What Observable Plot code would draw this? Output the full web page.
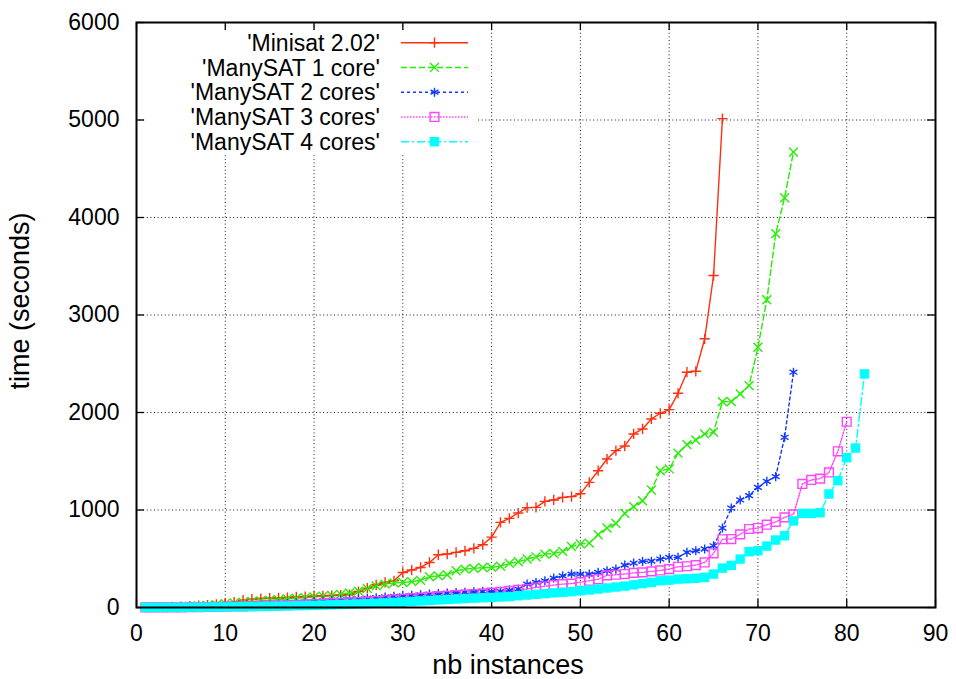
<!DOCTYPE html>
<html>
<head>
<meta charset="utf-8">
<script src="https://cdn.jsdelivr.net/npm/d3@7"></script>
<script src="https://cdn.jsdelivr.net/npm/@observablehq/plot@0.6"></script>
<style>
  html, body { margin: 0; padding: 0; background: #fff; }
  #chart { width: 956px; height: 679px; }
</style>
</head>
<body>
<div id="chart"></div>
<script>
// ---- data (times in seconds, sorted; x = number of instances solved) ----
const seriesNames = ["'Minisat 2.02'", "'ManySAT 1 core'", "'ManySAT 2 cores'", "'ManySAT 3 cores'", "'ManySAT 4 cores'"];

const minisat = [
  2, 3, 5, 7, 10, 14, 18, 24, 32, 42,
  55, 75, 85, 92, 95, 98, 102, 108, 112, 118,
  120, 123, 126, 132, 164, 199, 233, 257, 274, 359,
  384, 411, 462, 541, 548, 565, 582, 606, 644, 722,
  873, 914, 969, 1024, 1027, 1088, 1103, 1130, 1137, 1166,
  1283, 1403, 1523, 1609, 1657, 1780, 1831, 1934, 1992, 2030,
  2197, 2413, 2423, 2756, 3405, 5014
];
const manysat1 = [
  1, 2, 3, 5, 7, 10, 15, 22, 30, 40,
  48, 55, 62, 68, 74, 80, 88, 95, 100, 108,
  115, 125, 135, 150, 168, 195, 222, 240, 252, 256,
  266, 278, 315, 325, 336, 377, 394, 401, 410, 411,
  425, 452, 469, 497, 520, 548, 554, 575, 626, 651,
  661, 746, 815, 862, 965, 1034, 1095, 1205, 1403, 1421,
  1583, 1670, 1718, 1780, 1797, 2112, 2112, 2191, 2276, 2669,
  3156, 3834, 4203, 4671
];
const manysat2 = [
  1, 1, 2, 3, 4, 5, 6, 8, 10, 12,
  15, 18, 22, 26, 30, 35, 40, 46, 53, 60,
  65, 70, 76, 82, 88, 95, 100, 108, 115, 120,
  125, 130, 137, 142, 148, 152, 157, 160, 163, 164,
  166, 178, 189, 240, 257, 274, 302, 325, 343, 343,
  343, 360, 377, 394, 435, 456, 472, 475, 497, 513,
  515, 565, 582, 600, 633, 815, 1020, 1103, 1147, 1232,
  1294, 1342, 1746, 2413
];
const manysat3 = [
  1, 1, 1, 2, 2, 3, 4, 5, 6, 8,
  10, 12, 14, 16, 19, 22, 25, 28, 32, 36,
  40, 44, 48, 52, 56, 60, 66, 74, 82, 90,
  96, 102, 108, 114, 120, 126, 132, 138, 145, 152,
  160, 171, 180, 189, 205, 218, 230, 240, 245, 260,
  275, 290, 330, 336, 343, 355, 360, 370, 380, 394,
  418, 423, 435, 462, 556, 700, 702, 750, 805, 815,
  849, 878, 924, 955, 1267, 1308, 1322, 1385, 1602, 1905
];
const manysat4 = [
  1, 1, 1, 2, 2, 3, 3, 4, 5, 6,
  7, 8, 9, 10, 12, 14, 16, 18, 20, 22,
  25, 28, 31, 34, 37, 40, 43, 47, 52, 57,
  62, 67, 72, 77, 82, 87, 91, 96, 100, 103,
  108, 112, 120, 128, 135, 142, 150, 156, 163, 171,
  180, 190, 200, 210, 220, 232, 245, 258, 274, 281,
  291, 295, 300, 308, 343, 404, 432, 497, 572, 582,
  630, 692, 736, 888, 965, 965, 972, 1164, 1301, 1537,
  1636, 2396
];

const xTicks = [0, 10, 20, 30, 40, 50, 60, 70, 80, 90];
const yTicks = [0, 1000, 2000, 3000, 4000, 5000, 6000];
const xLabel = "nb instances";
const yLabel = "time (seconds)";

// ---- styling ----
const W = 956, H = 679;
const mL = 136, mR = 21, mT = 22, mB = 72;
const pw = W - mL - mR, ph = H - mT - mB;
const FONT = "'Liberation Sans', Arial, Helvetica, sans-serif";
const FS = 23;
const LFS = 27;

const styles = [
  {color: "#ff3010", dash: null,        symbol: "plus",     r: 3.4,  filled: false},
  {color: "#22ee00", dash: "6,3",       symbol: "times",    r: 4.1,  filled: false},
  {color: "#1238ff", dash: "3,3",       symbol: "asterisk", r: 4.3,  filled: false},
  {color: "#ff44ff", dash: "1.5,1.5",   symbol: "square2",  r: 5.6,  filled: false},
  {color: "#00ffff", dash: "8,3,2,3",   symbol: "square",   r: 5.3,  filled: true}
];
const allValues = [minisat, manysat1, manysat2, manysat3, manysat4];

const table = seriesNames.flatMap((name, k) =>
  allValues[k].map((t, i) => ({series: name, n: i + 1, t})));

const marks = [
  Plot.gridX(xTicks, {stroke: "#000", strokeOpacity: 0.9, strokeDasharray: "1,2.6"}),
  Plot.gridY(yTicks, {stroke: "#000", strokeOpacity: 0.9, strokeDasharray: "1,2.6"}),
  // inward tick marks on all four sides
  Plot.tickX(xTicks, {x: d => d, stroke: "#000", strokeWidth: 1.3, insetTop: ph - 8}),
  Plot.tickX(xTicks, {x: d => d, stroke: "#000", strokeWidth: 1.3, insetBottom: ph - 8}),
  Plot.tickY(yTicks, {y: d => d, stroke: "#000", strokeWidth: 1.3, insetRight: pw - 8}),
  Plot.tickY(yTicks, {y: d => d, stroke: "#000", strokeWidth: 1.3, insetLeft: pw - 8}),
  Plot.axisX(xTicks, {tickSize: 0, tickPadding: 17, fontSize: FS, label: null, fill: "#000", tickFormat: d => String(d)}),
  Plot.axisY(yTicks, {tickSize: 0, tickPadding: 17, fontSize: FS, label: null, fill: "#000", tickFormat: d => String(d)}),
  Plot.text([yLabel], {text: d => d, frameAnchor: "left", textAnchor: "middle", lineAnchor: "middle",
    dx: -116, dy: -14, rotate: -90, fontSize: LFS, fill: "#000"}),
  Plot.text([xLabel], {text: d => d, frameAnchor: "bottom", textAnchor: "middle", lineAnchor: "middle",
    dy: 58, dx: -28, fontSize: LFS, fill: "#000"})
];

seriesNames.forEach((name, k) => {
  const s = styles[k];
  const rows = table.filter(d => d.series === name);
  marks.push(Plot.line(rows, {x: "n", y: "t", stroke: s.color, strokeWidth: 1.4,
    strokeDasharray: s.dash || undefined}));
});
seriesNames.forEach((name, k) => {
  const s = styles[k];
  const rows = table.filter(d => d.series === name);
  marks.push(Plot.dot(rows, {x: "n", y: "t", symbol: s.symbol, r: s.r,
    fill: s.filled ? s.color : "none", stroke: s.filled ? "none" : s.color, strokeWidth: 1.4}));
});
marks.push(Plot.frame({stroke: "#000", strokeWidth: 2}));

const svg = Plot.plot({
  width: W, height: H,
  marginLeft: mL, marginRight: mR, marginTop: mT, marginBottom: mB,
  style: {fontFamily: FONT, fontSize: FS + "px", background: "#fff", color: "#000"},
  x: {domain: [0, 90], axis: null},
  y: {domain: [0, 6000], axis: null},
  marks
});

// ---- in-plot key (opaque box, top left) ----
const g = d3.select(svg).append("g").attr("font-family", FONT).attr("font-size", FS);
g.append("rect").attr("x", 146).attr("y", 30).attr("width", 330).attr("height", 125).attr("fill", "#fff");
const symbolTypes = {plus: d3.symbolPlus, times: d3.symbolTimes, asterisk: d3.symbolAsterisk, square2: d3.symbolSquare2, square: d3.symbolSquare};
seriesNames.forEach((name, k) => {
  const s = styles[k];
  const cy = 42.7 + k * 24.75;
  g.append("text").attr("x", 380).attr("y", cy).attr("dy", "0.35em")
    .attr("text-anchor", "end").attr("fill", "#000").text(name);
  g.append("line").attr("x1", 401).attr("x2", 468).attr("y1", cy).attr("y2", cy)
    .attr("stroke", s.color).attr("stroke-width", 1.4)
    .attr("stroke-dasharray", s.dash || null);
  g.append("path").attr("transform", `translate(434.5,${cy})`)
    .attr("d", d3.symbol(symbolTypes[s.symbol], Math.PI * s.r * s.r)())
    .attr("fill", s.filled ? s.color : "none").attr("stroke", s.filled ? "none" : s.color)
    .attr("stroke-width", 1.4);
});

document.getElementById("chart").appendChild(svg);
</script>
</body>
</html>
